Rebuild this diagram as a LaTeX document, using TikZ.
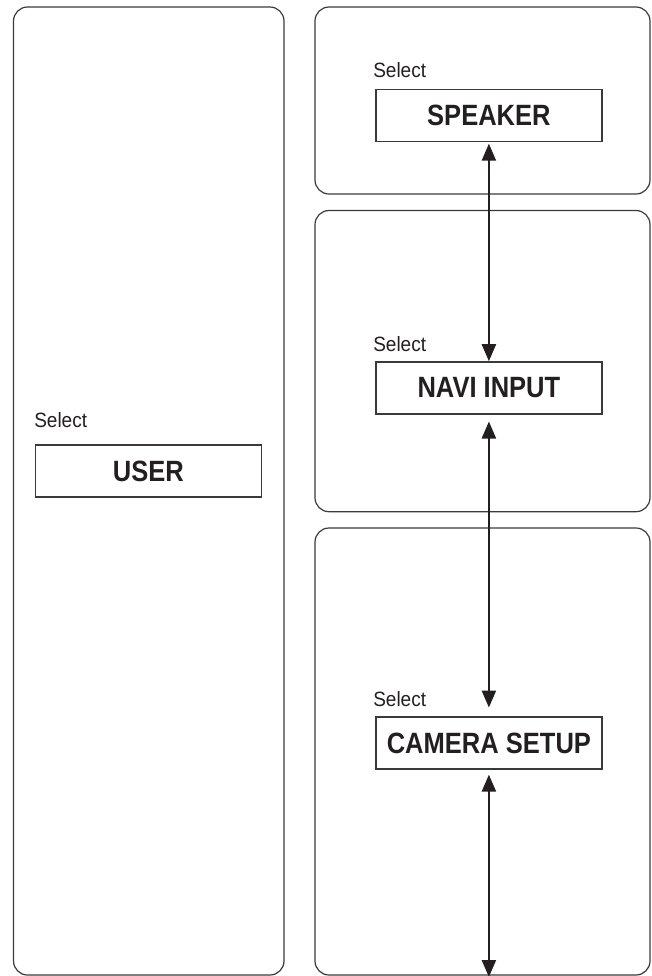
\documentclass[tikz,border=0pt]{standalone}
\usepackage{fontspec}
\setmainfont{Liberation Sans}
\newfontfamily\condbold[FakeStretch=0.87]{Liberation Sans Bold}
\newfontfamily\selfont[FakeStretch=0.92]{Liberation Sans}
\usetikzlibrary{arrows.meta}
\definecolor{ink}{HTML}{231F20}
\definecolor{edge}{HTML}{3A3A3A}
\begin{document}
\begin{tikzpicture}[x=0.75pt,y=-0.75pt,
  panel/.style={draw=edge,line width=0.9pt,rounded corners=10.5pt},
  itembox/.style={draw=edge,line width=1pt,minimum width=169.5pt,minimum height=39pt,inner sep=0pt,
    font=\condbold\fontsize{22}{22}\selectfont,text=ink},
  seltext/.style={anchor=base west,inner sep=0pt,font=\selfont\fontsize{15.5}{15.5}\selectfont,text=ink},
  link/.style={draw=ink,line width=1.7pt,{Triangle[length=12.75pt,width=10.5pt]}-{Triangle[length=12.75pt,width=10.5pt]}}
]
\useasboundingbox (0,0) rectangle (651,976);
% panels
\draw[panel] (13.5,7) rectangle (284,975);
\draw[panel] (315,7) rectangle (650,194);
\draw[panel] (315,210.5) rectangle (650,511.7);
\draw[panel] (315,528) rectangle (650,975);
% boxes
\node[itembox] (user) at (148.3,471) {USER};
\node[itembox] (speaker) at (488.9,115.4) {SPEAKER};
\node[itembox] (navi) at (488.9,387.9) {NAVI INPUT};
\node[itembox] (camera) at (488.9,742.9) {CAMERA SETUP};
% select labels
\node[seltext] (suser) at (34,427.5) {Select};
\node[seltext] (sspeaker) at (373,77) {Select};
\node[seltext] (snavi) at (373,351.5) {Select};
\node[seltext] (scamera) at (373,706.5) {Select};
% arrows
\coordinate (bottomend) at (488.9,977);
\draw[link,shorten <=1.2pt] (speaker.south) -- (navi.north);
\draw[link,shorten <=5.2pt,shorten >=6.5pt] (navi.south) -- (camera.north);
\draw[link,shorten <=3.8pt] (camera.south) -- (bottomend);
\end{tikzpicture}
\end{document}
